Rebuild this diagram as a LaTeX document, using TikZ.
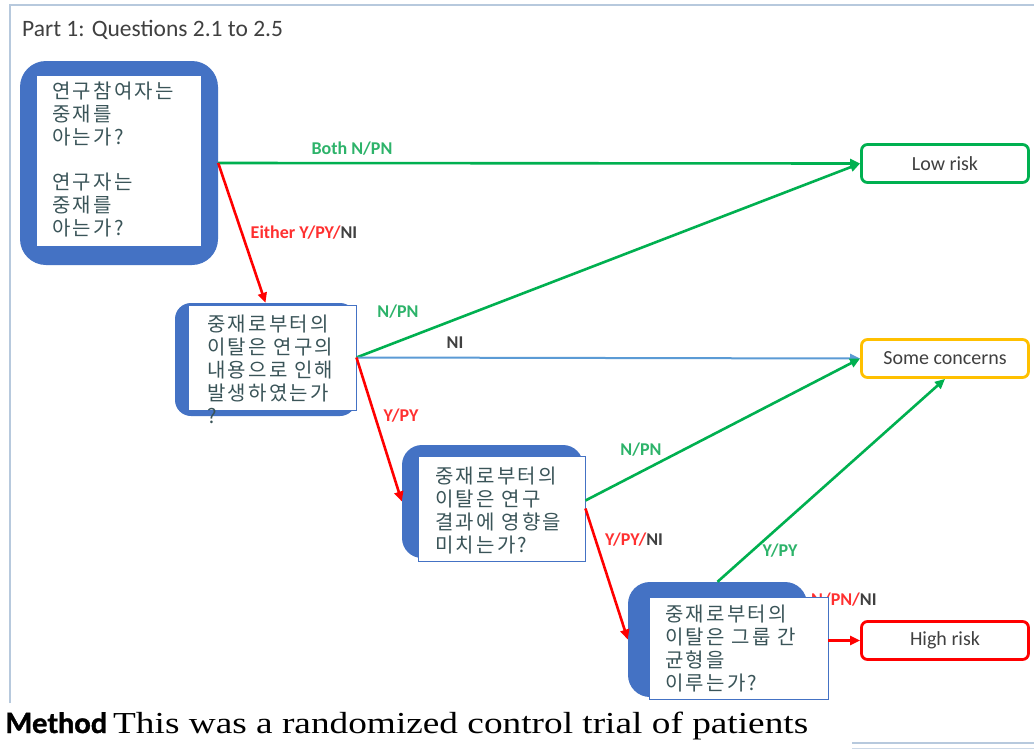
\documentclass[tikz,border=0pt]{standalone}
\usepackage{fontspec}
\usepackage{graphicx}
\setmainfont{Carlito}
\newfontfamily\kfont[LetterSpace=11]{Noto Sans CJK KR}
\newfontfamily\bodyserif{Liberation Serif}
\newfontfamily\headsans[BoldFeatures={FakeBold=1.5}]{Lato}
\usetikzlibrary{arrows.meta,calc}

\definecolor{boxblue}{HTML}{4472C4}
\definecolor{okgreen}{HTML}{00B050}
\definecolor{warnyel}{HTML}{FFC000}
\definecolor{badred}{HTML}{FF0000}
\definecolor{nilblue}{HTML}{5B9BD5}
\definecolor{framec}{HTML}{B7C9DD}
\definecolor{qtext}{HTML}{3A5458}
\definecolor{lbl}{HTML}{404040}
\definecolor{lblgreen}{HTML}{2DB36A}
\definecolor{lblred}{HTML}{FF3030}

\begin{document}
\begin{tikzpicture}[x=1pt,y=-1pt,
  qbox/.style={rectangle, fill=boxblue, draw=none, inner sep=0pt},
  qwhite/.style={rectangle, fill=white, draw=boxblue, line width=0.9pt, inner sep=0pt},
  qtxt/.style={font=\kfont\fontsize{20}{23}\selectfont, text=qtext, align=left,
    inner sep=0pt, anchor=north west},
  outcome/.style={rectangle, rounded corners=6pt, line width=2.8pt, fill=white,
    minimum width=167pt, minimum height=38pt, inner sep=0pt,
    font=\fontsize{20}{23}\selectfont, text=lbl},
  link/.style={line width=2.6pt, -{Triangle[length=10pt,width=9pt]}},
  elbl/.style={font=\bfseries\fontsize{18}{21}\selectfont, inner sep=0pt}]

\useasboundingbox (0,0) rectangle (1034,750);
\fill[white] (0,0) rectangle (1034,750);

% page frame
\draw[framec, line width=2pt] (10,703) -- (10,5) -- (1034,5);

\node[anchor=west, inner sep=0pt, text=lbl, font=\fontsize{23.5}{27}\selectfont]
  (title) at (22,30) {Part 1: Questions 2.1 to 2.5};

% label partly hidden under the last question box
\node[elbl, anchor=west] (l9) at (811,600)
  {\textcolor{lblred}{N/PN/}\textcolor{lbl}{NI}};

% question boxes
\node[qbox, rounded corners=26pt, minimum width=198pt, minimum height=204pt] (q1) at (119,163) {};
\node[qwhite, minimum width=165pt, minimum height=171pt] (q1w) at (118.5,160.5) {};
\node[qtxt] (q1t) at (52,82) {연구참여자는\\중재를\\아는가?\\[22pt]연구자는\\중재를\\아는가?};

\node[qbox, rounded corners=16pt, minimum width=181pt, minimum height=113pt] (q2) at (265.5,359.5) {};
\node[qwhite, minimum width=168pt, minimum height=105pt] (q2w) at (272,357.5) {};
\node[qtxt] (q2t) at (207,315) {중재로부터의\\이탈은 연구의\\내용으로 인해\\발생하였는가\\?};

\node[qbox, rounded corners=20pt, minimum width=181pt, minimum height=113pt] (q3) at (492.5,501.5) {};
\node[qwhite, minimum width=167pt, minimum height=105pt] (q3w) at (501.5,508.5) {};
\node[qtxt] (q3t) at (435,467) {중재로부터의\\이탈은 연구\\결과에 영향을\\미치는가?};

\node[qbox, rounded corners=22pt, minimum width=179pt, minimum height=115pt] (q4) at (717.5,639.5) {};
\node[qwhite, minimum width=179pt, minimum height=102pt] (q4w) at (738.5,648) {};
\node[qtxt] (q4t) at (665,605) {중재로부터의\\이탈은 그룹 간\\균형을\\이루는가?};

% outcomes
\node[outcome, draw=okgreen] (low) at (945,163.5) {Low risk};
\node[outcome, draw=warnyel] (some) at (945,358.5) {Some concerns};
\node[outcome, draw=badred] (high) at (945,640.5) {High risk};

% connectors
\draw[link, okgreen] (q1.east) -- (low.west);
\draw[link, badred] (q1.east) -- (q2.north);
\draw[link, okgreen] (q2w.east) -- (low.west);
\draw[link, nilblue, line width=2pt] (q2w.east) -- (some.west);
\draw[link, badred] (q2w.east) -- (q3.west);
\draw[link, okgreen] ([yshift=8pt]q3w.east) -- (some.west);
\draw[link, badred] (q3w.east) -- (q4.west);
\draw[link, okgreen] (q4.north) -- (some.south);
\draw[link, badred] (q4w.east |- high.west) -- (high.west);

% connector labels
\node[elbl, text=lblgreen] (l1) at (352,149) {Both N/PN};
\node[elbl] (l2) at (304,233) {\textcolor{lblred}{Either Y/PY/}\textcolor{lbl}{NI}};
\node[elbl, text=lblgreen] (l3) at (398,312) {N/PN};
\node[elbl, text=lbl] (l4) at (455,343) {NI};
\node[elbl, text=lblred] (l5) at (401,416) {Y/PY};
\node[elbl, text=lblgreen] (l6) at (641,450) {N/PN};
\node[elbl] (l7) at (634,540) {\textcolor{lblred}{Y/PY/}\textcolor{lbl}{NI}};
\node[elbl, text=lblgreen] (l8) at (780,551) {Y/PY};

% text below the figure
\node[anchor=base west, inner sep=0pt] (mhead) at (5,733)
  {\resizebox{102pt}{\height}{\headsans\bfseries\fontsize{28}{31}\selectfont Method}};
\node[anchor=base west, inner sep=0pt] (mbody) at (113,733)
  {\resizebox{695pt}{\height}{\bodyserif\fontsize{30.5}{34}\selectfont This was a randomized control trial of patients}};

% rule at the lower right
\draw[framec, line width=2.5pt] (852,743) -- (1034,743);
\draw[framec!70, line width=1pt] (852,748) -- (1034,748);
\end{tikzpicture}
\end{document}
